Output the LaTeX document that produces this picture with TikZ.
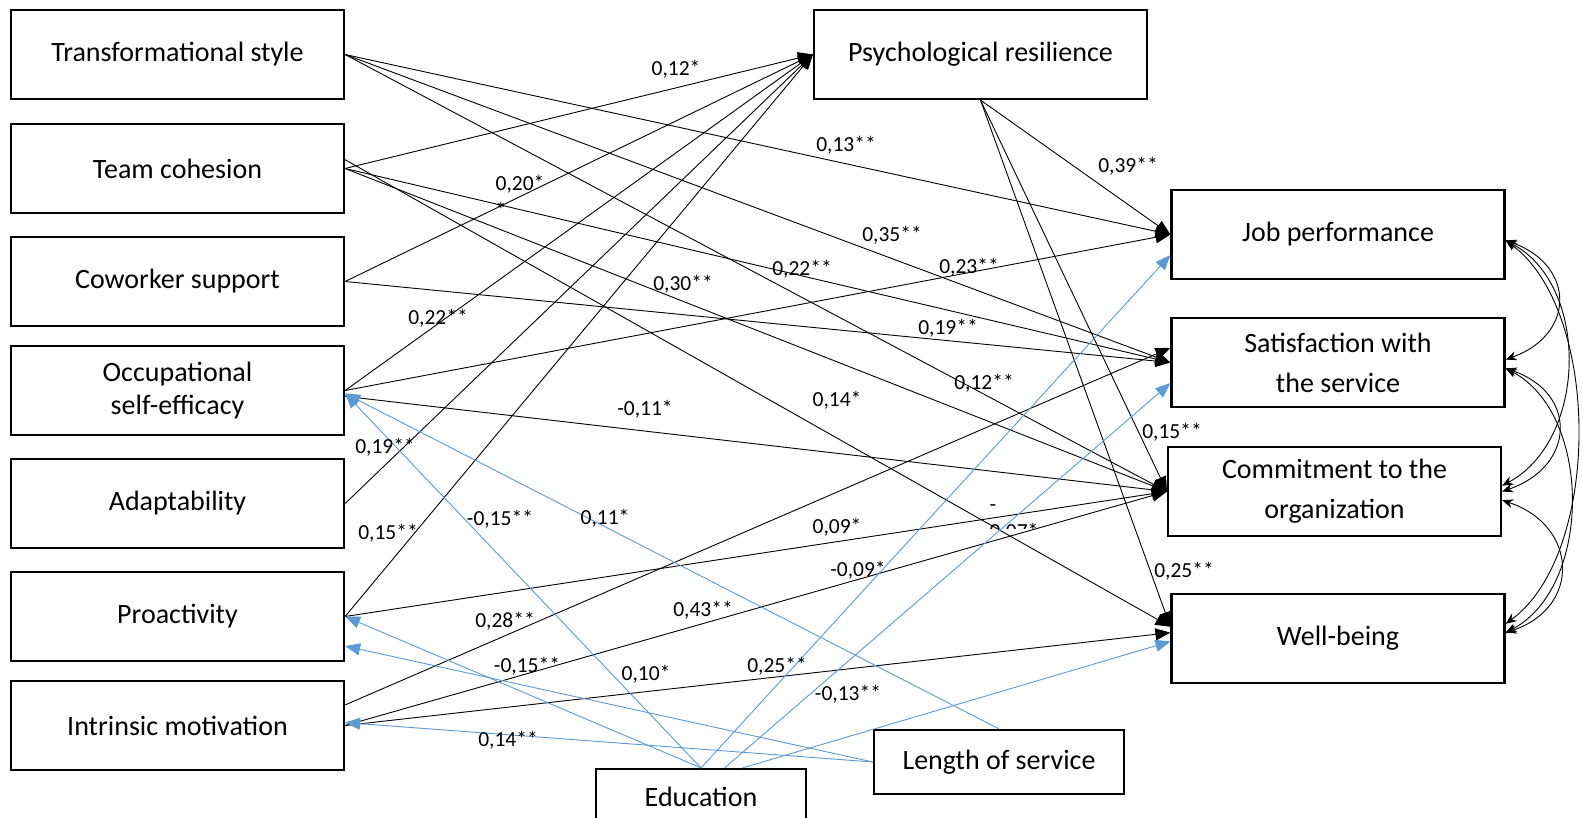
\documentclass[tikz,border=0pt]{standalone}
\usepackage{fontspec}
\setmainfont{Carlito}
\usetikzlibrary{arrows.meta}
\definecolor{ctrlblue}{HTML}{5B9BD5}
\tikzset{
  var/.style={draw, line width=2.2pt, minimum width=333pt, minimum height=89pt, inner sep=0pt, align=center, font=\fontsize{28}{33}\selectfont},
  coef/.style={inner sep=0pt, font=\fontsize{21.5}{27}\selectfont},
  eff/.style={line width=0.9pt, -{Triangle[length=15pt,width=12pt]}},
  ctrl/.style={eff, draw=ctrlblue},
  cov/.style={line width=0.9pt, {Stealth[length=11pt,width=9pt]}-{Stealth[length=11pt,width=9pt]}}
}
\begin{document}
\begin{tikzpicture}[x=1pt, y=-1pt]
\path[use as bounding box, fill=white] (0,0) rectangle (1582,818);

\node[var] (ts) at (177.5,54.5) {Transformational style};
\node[var] (tc) at (177.5,168.5) {Team cohesion};
\node[var] (cs) at (177.5,281.5) {Coworker support};
\node[var] (ose) at (177.5,390.5) {Occupational\\self-efficacy};
\node[var] (ad) at (177.5,503.5) {Adaptability};
\node[var] (pro) at (177.5,616.5) {Proactivity};
\node[var] (im) at (177.5,725.5) {Intrinsic motivation};

\node[var] (pr) at (980.5,54.5) {Psychological resilience};

\node[var] (jp) at (1338,234.5) {Job performance};
\node[var, font=\fontsize{28}{40}\selectfont] (sat) at (1338,362.5) {Satisfaction with\\the service};
\node[var, font=\fontsize{28}{40}\selectfont] (com) at (1334.5,491.5) {Commitment to the\\organization};
\node[var] (wb) at (1338,638.5) {Well-being};

\node[var, minimum width=210pt, minimum height=56pt] (edu) at (701,797) {Education};
\node[var, minimum width=250pt, minimum height=64pt] (los) at (999,762) {Length of service};

\draw[eff] (tc.east) -- (pr.west);
\draw[eff] (cs.east) -- (pr.west);
\draw[eff] (ose.east) -- (pr.west);
\draw[eff] (ad.east) -- (pr.west);
\draw[eff] (pro.east) -- (pr.west);

\draw[eff] (ts.east) -- (jp.west);
\draw[eff] (ts.east) -- (sat.west);
\draw[eff] (ts.east) -- (com.west);
\draw[eff] (tc.east) -- (sat.west);
\draw[eff] (tc.east) -- (com.west);
\draw[eff] (tc.3) -- (wb.176);
\draw[eff] (cs.east) -- (sat.west);
\draw[eff] (ose.east) -- (jp.west);
\draw[eff] (ose.358) -- (com.west);
\draw[eff] (pro.east) -- (com.west);
\draw[eff] (im.7) -- (sat.175);
\draw[eff] (im.east) -- (com.west);
\draw[eff] (im.east) -- (wb.178);
\draw[eff] (pr.south) -- (jp.west);
\draw[eff] (pr.south) -- (com.west);
\draw[eff] (pr.south) -- (wb.176);

\draw[ctrl] (edu.north) -- (ose.359);
\draw[ctrl] (edu.north) -- (pro.east);
\draw[ctrl] (edu.north) -- (jp.187);
\draw[ctrl] (edu.51) -- (sat.187);
\draw[ctrl] (edu.35) -- (wb.181);
\draw[ctrl] (los.north) -- (ose.359);
\draw[ctrl] (los.west) -- (pro.350);
\draw[ctrl] (los.west) -- (im.1);

\draw[cov] (jp.358) .. controls +(70,25) and +(70,-25) .. (sat.1);
\draw[cov] (jp.358) .. controls +(85,45) and +(85,-45) .. (com.2);
\draw[cov] (jp.358) .. controls +(96,70) and +(96,-70) .. (wb.5);
\draw[cov] (sat.358) .. controls +(73,25) and +(73,-25) .. (com.0);
\draw[cov] (sat.358) .. controls +(87,45) and +(87,-45) .. (wb.2);
\draw[cov] (com.357) .. controls +(76,25) and +(76,-25) .. (wb.2);

\node[coef] (k1) at (676,69) {0,12*};
\node[coef, align=left] (k2) at (520,196) {0,20*\\*};
\node[coef] (k3) at (438,318) {0,22**};
\node[coef] (k4) at (385,447) {0,19**};
\node[coef] (k5) at (388,533) {0,15**};
\node[coef] (k6) at (846,145) {0,13**};
\node[coef] (k7) at (892,235) {0,35**};
\node[coef] (k8) at (802,269) {0,22**};
\node[coef] (k9) at (969,267) {0,23**};
\node[coef] (k10) at (683,284) {0,30**};
\node[coef] (k11) at (948,328) {0,19**};
\node[coef] (k12) at (984,383) {0,12**};
\node[coef] (k13) at (837,400) {0,14*};
\node[coef] (k14) at (645,409) {-0,11*};
\node[coef] (k15) at (1128,166) {0,39**};
\node[coef] (k16) at (1172,432) {0,15**};
\node[coef] (k17) at (1184,571) {0,25**};
\node[coef] (k18) at (837,527) {0,09*};
\node[coef] (k19) at (858,570) {-0,09*};
\node[coef] (k20) at (505,621) {0,28**};
\node[coef] (k21) at (703,610) {0,43**};
\node[coef] (k22) at (500,519) {-0,15**};
\node[coef] (k23) at (605,518) {0,11*};
\node[coef] (k24) at (527,666) {-0,15**};
\node[coef] (k25) at (646,674) {0,10*};
\node[coef] (k26) at (777,666) {0,25**};
\node[coef] (k27) at (848,694) {-0,13**};
\node[coef] (k28) at (508,740) {0,14**};
\begin{scope}
\clip (950,480) rectangle (1080,528);
\node[coef, align=left] (k29) at (1014,523) {-\\0,07*};
\end{scope}

\end{tikzpicture}
\end{document}
